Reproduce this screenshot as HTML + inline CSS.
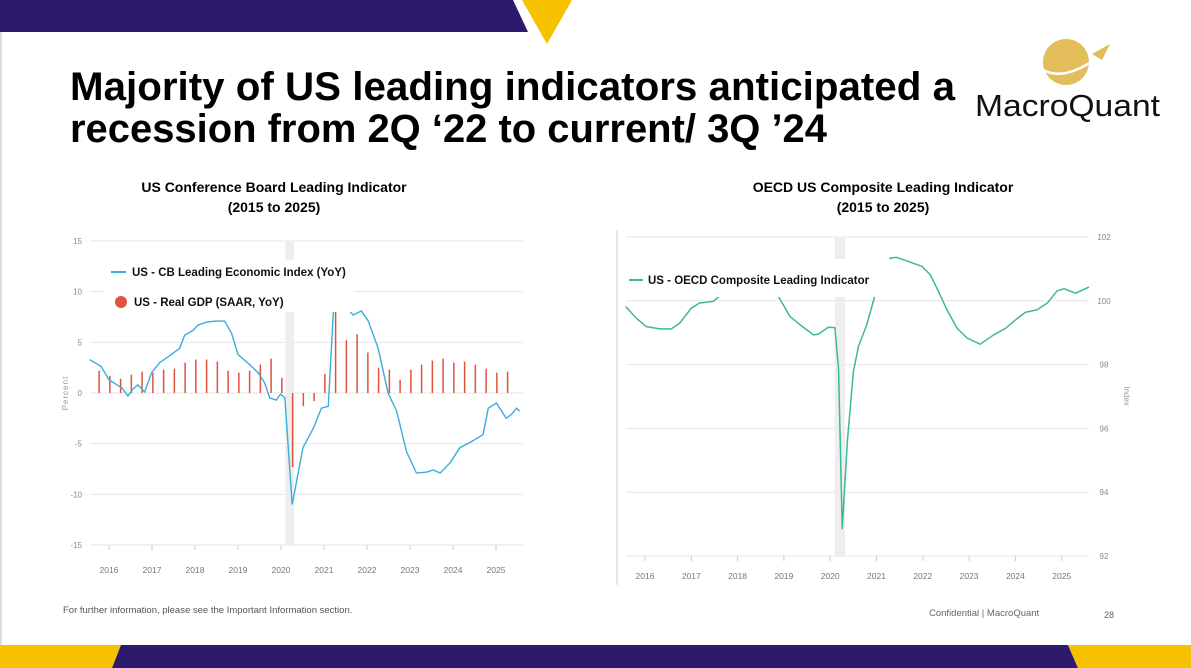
<!DOCTYPE html>
<html><head><meta charset="utf-8"><style>
body{margin:0;background:#fff;}
svg{display:block;font-family:"Liberation Sans",sans-serif;}
</style></head><body>
<svg id="slide" width="1191" height="668" viewBox="0 0 1191 668">
<rect x="0" y="0" width="1191" height="668" fill="#fff"/>
<line x1="1" y1="30" x2="1" y2="645" stroke="#ddd" stroke-width="2"/>
<polygon points="0,0 513,0 528,32 0,32" fill="#2e1a6b"/>
<polygon points="522,0 572,0 547,44" fill="#f6c200"/>
<polygon points="0,645 121,645 112,668 0,668" fill="#f6c200"/>
<polygon points="121,645 1068,645 1078,668 112,668" fill="#2e1a6b"/>
<polygon points="1068,645 1191,645 1191,668 1078,668" fill="#f6c200"/>

<g font-weight="bold" font-size="40" fill="#000">
<text x="70" y="100" textLength="885" lengthAdjust="spacingAndGlyphs">Majority of US leading indicators anticipated a</text>
<text x="70" y="142" textLength="757" lengthAdjust="spacingAndGlyphs">recession from 2Q ‘22 to  current/ 3Q ’24</text>
</g>

<g>
<circle cx="1066" cy="62" r="23" fill="#e2bd5a"/>
<path d="M1040,68 Q1062,84 1100,56" fill="none" stroke="#fff" stroke-width="2.5"/>
<path d="M1092,54 L1110,44 L1102,60 Z" fill="#e2bd5a"/>
<text x="975" y="116" font-size="31" fill="#111" textLength="185" lengthAdjust="spacingAndGlyphs">MacroQuant</text>
</g>

<g font-weight="bold" font-size="14" fill="#000" text-anchor="middle">
<text x="274" y="192">US Conference Board Leading Indicator</text>
<text x="274" y="212">(2015 to 2025)</text>
<text x="883" y="192">OECD US Composite Leading Indicator</text>
<text x="883" y="212">(2015 to 2025)</text>
</g>

<g id="left-chart"></g>
<g id="right-chart"></g>

<text x="63" y="613" font-size="9.5" fill="#555">For further information, please see the Important Information section.</text>
<text x="929" y="616" font-size="9.5" fill="#666">Confidential | MacroQuant</text>
<text x="1104" y="618" font-size="9" fill="#666">28</text>
</svg>
<script>
// ---- Left chart data ----
const cbYears = [2015.55,2015.82,2016.0,2016.3,2016.44,2016.56,2016.67,2016.83,2016.99,2017.18,2017.45,2017.64,2017.76,2017.96,2018.07,2018.27,2018.5,2018.69,2018.85,2019.0,2019.27,2019.47,2019.62,2019.74,2019.89,2019.99,2020.09,2020.26,2020.51,2020.75,2020.94,2021.1,2021.25,2021.49,2021.68,2021.87,2022.03,2022.26,2022.49,2022.69,2022.92,2023.15,2023.39,2023.54,2023.7,2023.93,2024.16,2024.43,2024.7,2024.82,2025.01,2025.24,2025.36,2025.48,2025.55];
const cbValues = [3.3,2.6,1.3,0.5,-0.3,0.4,0.8,0.1,2.0,3.0,3.8,4.4,5.7,6.2,6.7,7.0,7.1,7.1,5.9,3.8,2.8,2.0,1.0,-0.5,-0.7,-0.1,-0.5,-11.0,-5.4,-3.5,-1.5,-1.3,10.6,8.6,7.7,8.1,7.1,4.4,0.0,-1.8,-5.8,-7.9,-7.8,-7.6,-7.9,-6.9,-5.4,-4.8,-4.1,-1.5,-1.0,-2.5,-2.1,-1.5,-1.8];
const gdpStart = 2015.77;
const gdpValues = [2.2,1.7,1.4,1.8,2.1,2.0,2.3,2.4,3.0,3.3,3.3,3.1,2.2,2.0,2.2,2.8,3.4,1.5,-7.3,-1.3,-0.8,1.9,10.5,5.2,5.8,4.0,2.5,2.3,1.3,2.3,2.8,3.2,3.4,3.0,3.1,2.8,2.4,2.0,2.1];
const leftYTicks = [15,10,5,0,-5,-10,-15];
const yearTicks = [2016,2017,2018,2019,2020,2021,2022,2023,2024,2025];
// ---- Right chart data ----
const oecdYears = [2015.58,2015.81,2016.03,2016.32,2016.57,2016.75,2017.0,2017.18,2017.47,2017.69,2018.0,2018.3,2018.6,2018.84,2019.13,2019.35,2019.64,2019.74,2019.96,2020.1,2020.18,2020.26,2020.37,2020.5,2020.61,2020.79,2020.97,2021.08,2021.3,2021.44,2021.73,2021.98,2022.16,2022.34,2022.52,2022.74,2022.96,2023.24,2023.53,2023.79,2024.0,2024.22,2024.47,2024.69,2024.9,2025.05,2025.3,2025.59];
const oecdValues = [99.82,99.46,99.19,99.12,99.12,99.30,99.77,99.93,99.98,100.24,100.6,100.8,100.6,100.24,99.51,99.25,98.93,98.95,99.17,99.16,97.88,92.86,95.58,97.78,98.57,99.25,100.19,100.82,101.34,101.36,101.21,101.08,100.82,100.29,99.72,99.14,98.83,98.64,98.93,99.14,99.40,99.64,99.72,99.93,100.31,100.38,100.24,100.43];
const rightYTicks = [102,100,98,96,94,92];

const NS = "http://www.w3.org/2000/svg";
function mk(parent, tag, attrs){const e=document.createElementNS(NS,tag);for(const k in attrs)e.setAttribute(k,attrs[k]);parent.appendChild(e);return e;}

// Left chart
(function(){
  const g=document.getElementById('left-chart');
  const x=t=>109+(t-2016)*43;
  const y=v=>393-v*(304/30);
  leftYTicks.forEach(v=>{
    const l=mk(g,'line',{x1:90,x2:523,y1:y(v),y2:y(v),stroke:'#e6e6e6','stroke-width':1});
    
    
    const t=mk(g,'text',{x:82,y:y(v)+3,'font-size':8,fill:'#888','text-anchor':'end'});
    t.textContent=v;
    
    
  });
  const sh=mk(g,'rect',{x:x(2020.1),y:241,width:x(2020.3)-x(2020.1),height:304,fill:'#eee'});
  
  
  yearTicks.forEach(yr=>{
    const tk=mk(g,'line',{x1:x(yr),x2:x(yr),y1:545,y2:550,stroke:'#ccc'});
    
    
    const t=mk(g,'text',{x:x(yr),y:573,'font-size':8.5,fill:'#777','text-anchor':'middle'});
    t.textContent=yr;
    
    
  });
  const yl=mk(g,'text',{x:0,y:0,'font-size':8,fill:'#999','text-anchor':'middle',transform:'translate(68,393) rotate(-90)','letter-spacing':'1'});
  yl.textContent='Percent';
  
  
  gdpValues.forEach((v,i)=>{
    const t=gdpStart+0.25*i;
    const b=mk(g,'line',{x1:x(t),x2:x(t),y1:y(0),y2:y(v),stroke:'#e0533a','stroke-width':1.5});
    
    
  });
  const p=mk(g,'polyline',{points:cbYears.map((t,i)=>x(t)+','+y(cbValues[i])).join(' '),fill:'none',stroke:'#3aaed8','stroke-width':1.4});
  
  
  // legend
  const lg=mk(g,'g',{});
  
  
  mk(lg,'rect',{x:104,y:260,width:250,height:52,fill:'#fff'});
  mk(lg,'line',{x1:111,x2:126,y1:272,y2:272,stroke:'#3aaed8','stroke-width':2});
  const t1=mk(lg,'text',{x:132,y:276,'font-size':11.5,'font-weight':'bold',fill:'#111'});t1.textContent='US - CB Leading Economic Index (YoY)';
  mk(lg,'circle',{cx:121,cy:302,r:6,fill:'#e0533a'});
  const t2=mk(lg,'text',{x:134,y:306,'font-size':11.5,'font-weight':'bold',fill:'#111'});t2.textContent='US - Real GDP (SAAR, YoY)';
})();

// Right chart
(function(){
  const g=document.getElementById('right-chart');
  const x=t=>645+(t-2016)*46.3;
  const y=v=>556-(v-92)*31.9;
  mk(g,'line',{x1:617,x2:617,y1:230,y2:585,stroke:'#e8e8e8','stroke-width':2});
  rightYTicks.forEach(v=>{
    const l=mk(g,'line',{x1:626,x2:1089,y1:y(v),y2:y(v),stroke:'#e6e6e6','stroke-width':1});
    
    
    const t=mk(g,'text',{x:1104,y:y(v)+3,'font-size':8,fill:'#888','text-anchor':'middle'});
    t.textContent=v;
    
    
  });
  const sh=mk(g,'rect',{x:x(2020.1),y:237,width:x(2020.32)-x(2020.1),height:319,fill:'#eee'});
  
  
  yearTicks.forEach(yr=>{
    const tk=mk(g,'line',{x1:x(yr),x2:x(yr),y1:556,y2:561,stroke:'#ccc'});
    
    
    const t=mk(g,'text',{x:x(yr),y:579,'font-size':8.5,fill:'#777','text-anchor':'middle'});
    t.textContent=yr;
    
    
  });
  const yl=mk(g,'text',{x:0,y:0,'font-size':8,fill:'#999','text-anchor':'middle',transform:'translate(1124,396) rotate(90)'});
  yl.textContent='Index';
  
  
  const p=mk(g,'polyline',{points:oecdYears.map((t,i)=>x(t)+','+y(oecdValues[i])).join(' '),fill:'none',stroke:'#3cb89a','stroke-width':1.5,'stroke-linejoin':'round'});
  
  
  const lg=mk(g,'g',{});
  
  
  mk(lg,'rect',{x:626,y:259,width:264,height:38,fill:'#fff'});
  mk(lg,'line',{x1:629,x2:643,y1:280,y2:280,stroke:'#3cb89a','stroke-width':2});
  const t1=mk(lg,'text',{x:648,y:284,'font-size':11.5,'font-weight':'bold',fill:'#111'});t1.textContent='US - OECD Composite Leading Indicator';
})();
</script>
</body></html>
